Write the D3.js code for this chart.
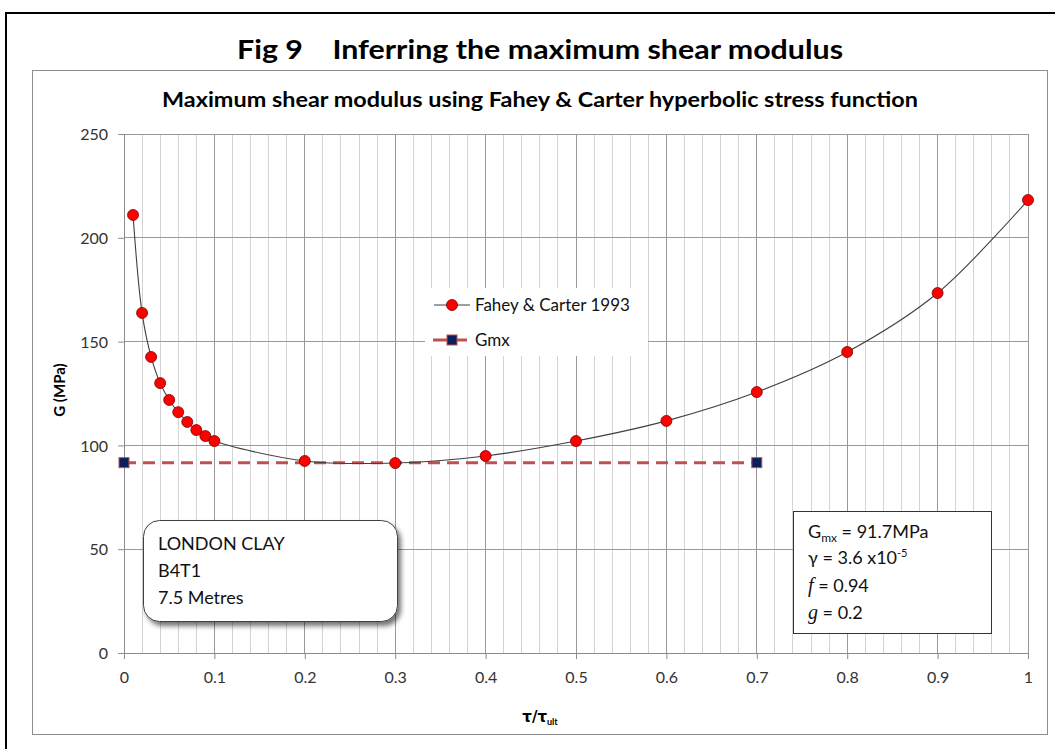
<!DOCTYPE html>
<html>
<head>
<meta charset="utf-8">
<script src="https://cdn.jsdelivr.net/npm/d3@7"></script>
<style>
  body { margin:0; background:#fff; }
  svg { display:block; }
  text { font-family: Lato, "Open Sans", sans-serif; }
</style>
</head>
<body>
<svg id="chart" width="1055" height="749"></svg>
<script>
// ---- data ----
const faheyX = [0.01,0.02,0.03,0.04,0.05,0.06,0.07,0.08,0.09,0.1,0.2,0.3,0.4,0.5,0.6,0.7,0.8,0.9,1.0];
const faheyG = [211,163.8,142.6,130,121.9,116,111.3,107.4,104.5,102.1,92.5,91.5,94.9,102.1,111.8,125.7,145,173.4,218.2];
const gmxX = [0, 0.7];
const gmxG = [91.7, 91.7];
const xTicks = [0,0.1,0.2,0.3,0.4,0.5,0.6,0.7,0.8,0.9,1];
const xMinor = d3.range(0, 101, 2).map(d => d/100);
const yTicks = [0,50,100,150,200,250];

const svg = d3.select("#chart");

// outer frame
svg.append("rect").attr("x",6).attr("y",13).attr("width",1070).attr("height",800)
  .attr("fill","none").attr("stroke","#000").attr("stroke-width",2);

svg.append("text").attr("x",540).attr("y",59).attr("text-anchor","middle")
  .attr("font-size",26).attr("font-weight","bold").attr("fill","#000")
  .attr("textLength",606).attr("lengthAdjust","spacingAndGlyphs")
  .text("Fig 9\u00a0\u00a0\u00a0\u00a0Inferring the maximum shear modulus");

// inner chart box
svg.append("rect").attr("x",32.5).attr("y",70.5).attr("width",1015).attr("height",664)
  .attr("fill","#fff").attr("stroke","#8c8c8c").attr("stroke-width",1);

svg.append("text").attr("x",540).attr("y",107).attr("text-anchor","middle")
  .attr("font-size",20).attr("font-weight","bold").attr("fill","#000")
  .attr("textLength",756).attr("lengthAdjust","spacingAndGlyphs")
  .text("Maximum shear modulus using Fahey & Carter hyperbolic stress function");

const x = d3.scaleLinear().domain([0,1]).range([124,1028]);
const y = d3.scaleLinear().domain([0,250]).range([653,134]);

// minor vertical gridlines
svg.append("g").selectAll("line").data(xMinor).join("line")
  .attr("x1",d=>x(d)).attr("x2",d=>x(d)).attr("y1",y(250)).attr("y2",y(0))
  .attr("stroke",(d)=> (Math.round(d*100)%10===0) ? "#999" : "#d4d4d4")
  .attr("stroke-width",1).attr("shape-rendering","crispEdges");

// horizontal gridlines
svg.append("g").selectAll("line").data(yTicks.slice(1)).join("line")
  .attr("x1",x(0)).attr("x2",x(1)).attr("y1",d=>y(d)).attr("y2",d=>y(d))
  .attr("stroke","#999").attr("stroke-width",1).attr("shape-rendering","crispEdges");

// axes
const xAxis = svg.append("g").attr("transform",`translate(0,${y(0)})`)
  .call(d3.axisBottom(x).tickValues(xTicks).tickFormat(d3.format("")).tickSize(6).tickPadding(13));
const yAxis = svg.append("g").attr("transform",`translate(${x(0)},0)`)
  .call(d3.axisLeft(y).tickValues(yTicks).tickSize(6).tickPadding(10));
[xAxis,yAxis].forEach(a=>{
  a.select(".domain").attr("stroke","#8c8c8c");
  a.selectAll(".tick line").attr("stroke","#8c8c8c");
  a.selectAll(".tick text").attr("font-family","Lato, sans-serif").attr("font-size",16).attr("fill","#333");
});
yAxis.selectAll(".tick text").attr("dy","0.35em");

// axis titles
svg.append("text").attr("transform","translate(65,390) rotate(-90)").attr("text-anchor","middle")
  .attr("font-size",15).attr("font-weight","bold").attr("fill","#000").text("G (MPa)");
const xl = svg.append("text").attr("x",540).attr("y",722).attr("text-anchor","middle")
  .attr("font-size",15).attr("font-weight","bold").attr("fill","#000");
xl.append("tspan").attr("font-family","DejaVu Sans").text("\u03c4/\u03c4");
xl.append("tspan").attr("font-size",9).attr("dy",3).text("ult");

// shadow filter
const defs = svg.append("defs");
const f = defs.append("filter").attr("id","shadow").attr("x","-10%").attr("y","-10%").attr("width","130%").attr("height","140%");
f.append("feDropShadow").attr("dx",3).attr("dy",4).attr("stdDeviation",2.5).attr("flood-color","#000").attr("flood-opacity",0.55);

// London clay box
svg.append("rect").attr("x",143.5).attr("y",520.5).attr("width",254).attr("height",101).attr("rx",16)
  .attr("fill","#fff").attr("stroke","#404040").attr("stroke-width",1).attr("filter","url(#shadow)");
["LONDON CLAY","B4T1","7.5 Metres"].forEach((t,i)=>{
  svg.append("text").attr("x",158).attr("y",550+i*27).attr("font-size",18).attr("fill","#111").text(t);
});

// parameter box
svg.append("rect").attr("x",793.5).attr("y",511.5).attr("width",198).attr("height",122)
  .attr("fill","#fff").attr("stroke","#333").attr("stroke-width",1);
const t1 = svg.append("text").attr("x",808).attr("y",538).attr("font-size",18).attr("fill","#111");
t1.append("tspan").text("G");
t1.append("tspan").attr("font-size",12).attr("dy",4).text("mx");
t1.append("tspan").attr("dy",-4).text(" = 91.7MPa");
const t2 = svg.append("text").attr("x",808).attr("y",564).attr("font-size",18).attr("fill","#111");
t2.append("tspan").text("\u03b3 = 3.6 x10");
t2.append("tspan").attr("font-size",11).attr("dy",-7).text("-5");
const t3 = svg.append("text").attr("x",808).attr("y",592).attr("font-size",18).attr("fill","#111");
t3.append("tspan").attr("font-family","Liberation Serif, serif").attr("font-style","italic").attr("font-size",20).text("f");
t3.append("tspan").text(" = 0.94");
const t4 = svg.append("text").attr("x",808).attr("y",619).attr("font-size",18).attr("fill","#111");
t4.append("tspan").attr("font-family","Liberation Serif, serif").attr("font-style","italic").attr("font-size",20).text("g");
t4.append("tspan").text(" = 0.2");

// legend
svg.append("rect").attr("x",425).attr("y",288).attr("width",223).attr("height",68).attr("fill","#fff");
svg.append("line").attr("x1",434).attr("x2",470).attr("y1",305).attr("y2",305).attr("stroke","#404040").attr("stroke-width",1.2);
svg.append("circle").attr("cx",452).attr("cy",305).attr("r",5.5).attr("fill","#ff0000").attr("stroke","#7a0000").attr("stroke-width",0.8);
svg.append("text").attr("x",475).attr("y",311).attr("font-size",17).attr("fill","#111").text("Fahey & Carter 1993");
svg.append("line").attr("x1",433).attr("x2",467).attr("y1",340).attr("y2",340).attr("stroke","#c0504d").attr("stroke-width",3);
svg.append("rect").attr("x",447).attr("y",335).attr("width",10).attr("height",10).attr("fill","#0b1f5c").attr("stroke","#c0504d").attr("stroke-width",1);
svg.append("text").attr("x",475).attr("y",346).attr("font-size",17).attr("fill","#111").text("Gmx");

// Gmx dashed line
const gmxData = gmxX.map((d,i)=>[d,gmxG[i]]);
svg.append("path").datum(gmxData)
  .attr("d",d3.line().x(d=>x(d[0])).y(d=>y(d[1])))
  .attr("fill","none").attr("stroke","#c0504d").attr("stroke-width",3).attr("stroke-dasharray","12,7");
svg.append("g").selectAll("rect").data(gmxData).join("rect")
  .attr("x",d=>x(d[0])-5).attr("y",d=>y(d[1])-5).attr("width",10).attr("height",10)
  .attr("fill","#0b1f5c").attr("stroke","#c0504d").attr("stroke-width",1);

// Fahey curve
const fData = faheyX.map((d,i)=>[d,faheyG[i]]);
svg.append("path").datum(fData)
  .attr("d",d3.line().x(d=>x(d[0])).y(d=>y(d[1])).curve(d3.curveCatmullRom.alpha(0.5)))
  .attr("fill","none").attr("stroke","#404040").attr("stroke-width",1.1);
svg.append("g").selectAll("circle").data(fData).join("circle")
  .attr("cx",d=>x(d[0])).attr("cy",d=>y(d[1])).attr("r",5.5)
  .attr("fill","#ff0000").attr("stroke","#7a0000").attr("stroke-width",0.8);
</script>
</body>
</html>
